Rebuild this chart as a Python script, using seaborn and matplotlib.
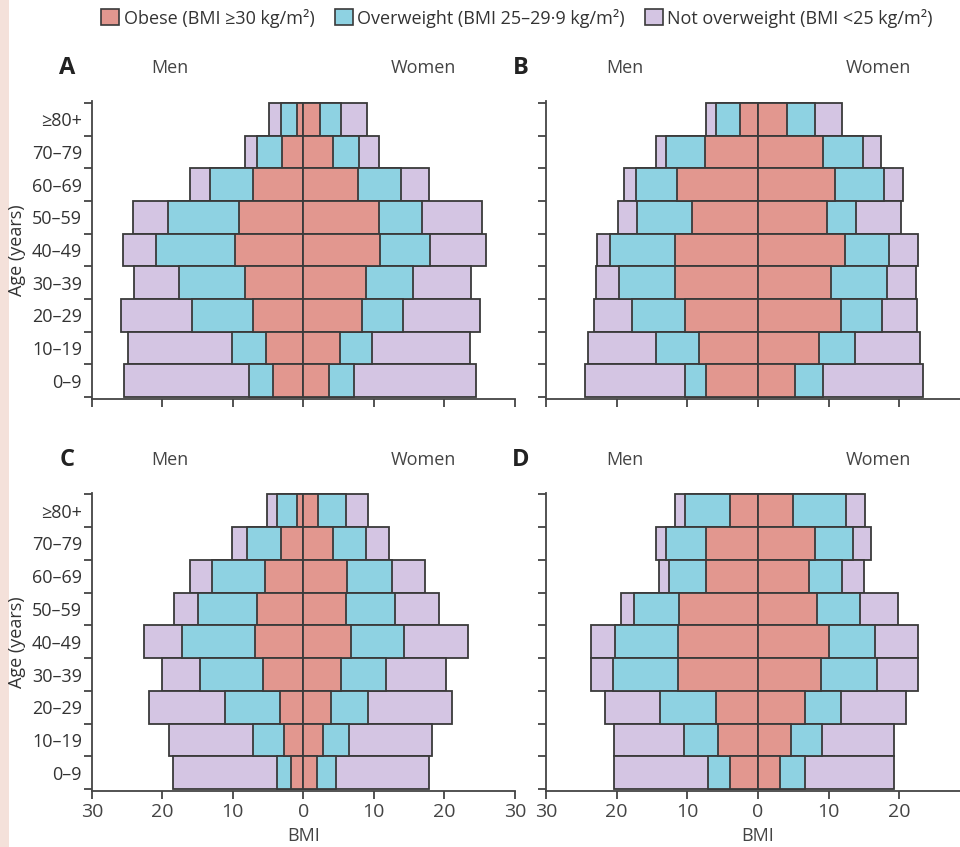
import matplotlib
matplotlib.use("Agg")
import matplotlib.pyplot as plt
from matplotlib.patches import Patch, Rectangle
import seaborn as sns
import pandas as pd

sns.set_style("white")
FONT = ["Open Sans", "DejaVu Sans"]
plt.rcParams["font.family"] = FONT

ages = ["≥80+", "70–79", "60–69", "50–59", "40–49", "30–39", "20–29", "10–19", "0–9"]
layers = ["Obese (BMI ≥30 kg/m²)", "Overweight (BMI 25–29·9 kg/m²)", "Not overweight (BMI <25 kg/m²)"]
colors = ["#E2978F", "#8ED2E2", "#D4C5E3"]
xticks = [-30, -20, -10, 0, 10, 20, 30]

# Panel A
A_men_obese = [0.9, 3.0, 7.1, 9.1, 9.7, 8.3, 7.1, 5.3, 4.3]
A_men_over = [2.3, 3.6, 6.2, 10.1, 11.2, 9.3, 8.7, 4.8, 3.4]
A_men_not = [1.7, 1.7, 2.8, 4.9, 4.7, 6.4, 10.1, 14.8, 17.8]
A_women_obese = [2.3, 4.2, 7.8, 10.7, 10.9, 8.9, 8.3, 5.2, 3.6]
A_women_over = [3.1, 3.7, 6.1, 6.1, 7.1, 6.7, 5.9, 4.5, 3.6]
A_women_not = [3.6, 2.9, 4.0, 8.5, 7.9, 8.2, 10.8, 14.0, 17.3]
# Panel B
B_men_obese = [2.6, 7.5, 11.4, 9.4, 11.7, 11.8, 10.3, 8.4, 7.3]
B_men_over = [3.3, 5.5, 5.9, 7.7, 9.3, 7.8, 7.6, 6.0, 3.1]
B_men_not = [1.5, 1.4, 1.6, 2.7, 1.8, 3.3, 5.3, 9.7, 14.1]
B_women_obese = [4.1, 9.2, 10.9, 9.8, 12.3, 10.4, 11.7, 8.7, 5.3]
B_women_over = [3.9, 5.6, 6.9, 4.0, 6.2, 7.8, 5.8, 5.0, 3.9]
B_women_not = [3.9, 2.6, 2.7, 6.5, 4.1, 4.2, 5.0, 9.2, 14.2]
# Panel C
C_men_obese = [0.9, 3.1, 5.4, 6.6, 6.8, 5.7, 3.3, 2.7, 1.7]
C_men_over = [2.8, 4.9, 7.6, 8.3, 10.4, 8.9, 7.8, 4.4, 2.0]
C_men_not = [1.5, 2.1, 3.0, 3.5, 5.4, 5.5, 10.8, 11.9, 14.8]
C_women_obese = [2.1, 4.2, 6.2, 6.1, 6.8, 5.3, 4.0, 2.8, 1.9]
C_women_over = [4.0, 4.7, 6.4, 6.9, 7.5, 6.4, 5.2, 3.7, 2.7]
C_women_not = [3.1, 3.2, 4.6, 6.2, 9.1, 8.6, 11.9, 11.7, 13.2]
# Panel D
D_men_obese = [3.9, 7.3, 7.3, 11.2, 11.3, 11.3, 6.0, 5.6, 3.9]
D_men_over = [6.5, 5.7, 5.3, 6.3, 9.0, 9.2, 7.8, 4.9, 3.2]
D_men_not = [1.3, 1.4, 1.4, 1.9, 3.3, 3.1, 7.9, 9.9, 13.3]
D_women_obese = [5.0, 8.0, 7.2, 8.4, 10.0, 8.9, 6.7, 4.7, 3.1]
D_women_over = [7.4, 5.4, 4.7, 6.1, 6.6, 8.0, 5.0, 4.4, 3.6]
D_women_not = [2.8, 2.6, 3.1, 5.3, 6.0, 5.7, 9.2, 10.2, 12.6]

panels = {
    "A": (A_men_obese, A_men_over, A_men_not, A_women_obese, A_women_over, A_women_not),
    "B": (B_men_obese, B_men_over, B_men_not, B_women_obese, B_women_over, B_women_not),
    "C": (C_men_obese, C_men_over, C_men_not, C_women_obese, C_women_over, C_women_not),
    "D": (D_men_obese, D_men_over, D_men_not, D_women_obese, D_women_over, D_women_not),
}

W, H = 960, 847
fig = plt.figure(figsize=(W / 100, H / 100), dpi=100)
fig.patch.set_facecolor("white")
fig.patches.append(Rectangle((0, 0), 9 / W, 1, transform=fig.transFigure,
                             facecolor="#F4E1DA", edgecolor="none", zorder=-5))


def px_axes(x0, x1, ytop, ybot):
    return fig.add_axes([x0 / W, 1 - ybot / H, (x1 - x0) / W, (ybot - ytop) / H])


boxes = {
    "A": (91.8, 514.8, 101.4, 398.6),
    "B": (546.0, 970.0, 101.4, 398.6),
    "C": (91.8, 514.8, 492.7, 790.9),
    "D": (546.0, 970.0, 492.7, 790.9),
}

for key, vals in panels.items():
    ax = px_axes(*boxes[key])
    m_ob, m_ov, m_no, w_ob, w_ov, w_no = vals
    rows = []
    for i, a in enumerate(ages):
        m_cum = [m_ob[i], m_ob[i] + m_ov[i], m_ob[i] + m_ov[i] + m_no[i]]
        w_cum = [w_ob[i], w_ob[i] + w_ov[i], w_ob[i] + w_ov[i] + w_no[i]]
        for k in range(3):
            rows.append({"age": a, "sex": "Men", "layer": layers[k], "edge": -m_cum[k]})
            rows.append({"age": a, "sex": "Women", "layer": layers[k], "edge": w_cum[k]})
    df = pd.DataFrame(rows)
    for k in [2, 1, 0]:
        for sex in ["Men", "Women"]:
            sub = df[(df["layer"] == layers[k]) & (df["sex"] == sex)]
            sns.barplot(data=sub, x="edge", y="age", order=ages, orient="h",
                        width=1.0, color=colors[k], saturation=1,
                        edgecolor="#3a3a3a", linewidth=1.3, errorbar=None, ax=ax)
    ax.set_xlim(-30, 30)
    ax.set_ylim(8.55, -0.55)
    for s in ["top", "right"]:
        ax.spines[s].set_visible(False)
    for s in ["left", "bottom"]:
        ax.spines[s].set_color("#444444")
        ax.spines[s].set_linewidth(1.3)
    ax.set_xticks(xticks)
    ax.set_yticks(range(len(ages)))
    ax.set_yticks([i - 0.5 for i in range(len(ages) + 1)], minor=True)
    ax.tick_params(axis="y", which="major", length=0, pad=7, labelsize=13, labelcolor="#333333")
    ax.tick_params(axis="y", which="minor", length=6, width=1.3, color="#444444", left=True)
    ax.tick_params(axis="x", length=6, width=1.3, color="#444444", bottom=True,
                   labelsize=14, labelcolor="#444444", pad=3)
    if key in ("A", "C"):
        ax.set_yticklabels(ages)
        ax.set_ylabel("Age (years)", fontsize=13, color="#333333", labelpad=4)
    else:
        ax.set_yticklabels([])
        ax.set_ylabel("")
    if key == "C":
        ax.set_xticklabels([str(abs(t)) for t in xticks])
    elif key == "D":
        ax.set_xticklabels([str(abs(t)) for t in xticks[:-1]] + [""])
    else:
        ax.set_xticklabels([])
    if key in ("C", "D"):
        ax.set_xlabel("BMI", fontsize=13, color="#444444", labelpad=4)
    else:
        ax.set_xlabel("")
    ax.set_facecolor("none")
    x0, x1, ytop, ybot = boxes[key]
    zero = (x0 + x1) / 2
    ty = 1 - (ytop - 33) / H
    fig.text((x0 - 25) / W, ty, key, fontsize=17, fontweight="bold", color="#222222",
             ha="center", va="center")
    fig.text((zero - 133) / W, ty, "Men", fontsize=13, color="#444444", ha="center", va="center")
    fig.text((zero + 120) / W, ty, "Women", fontsize=13, color="#444444", ha="center", va="center")

handles = [Patch(facecolor=c, edgecolor="#3a3a3a", linewidth=1.2) for c in colors]
fig.legend(handles, layers, loc="center", bbox_to_anchor=(517 / W, 1 - 18 / H), ncol=3,
           frameon=False, fontsize=13, handlelength=1.0, handleheight=1.0,
           handletextpad=0.25, columnspacing=1.1, labelcolor="#333333")

fig.savefig("out.png", dpi=100)
